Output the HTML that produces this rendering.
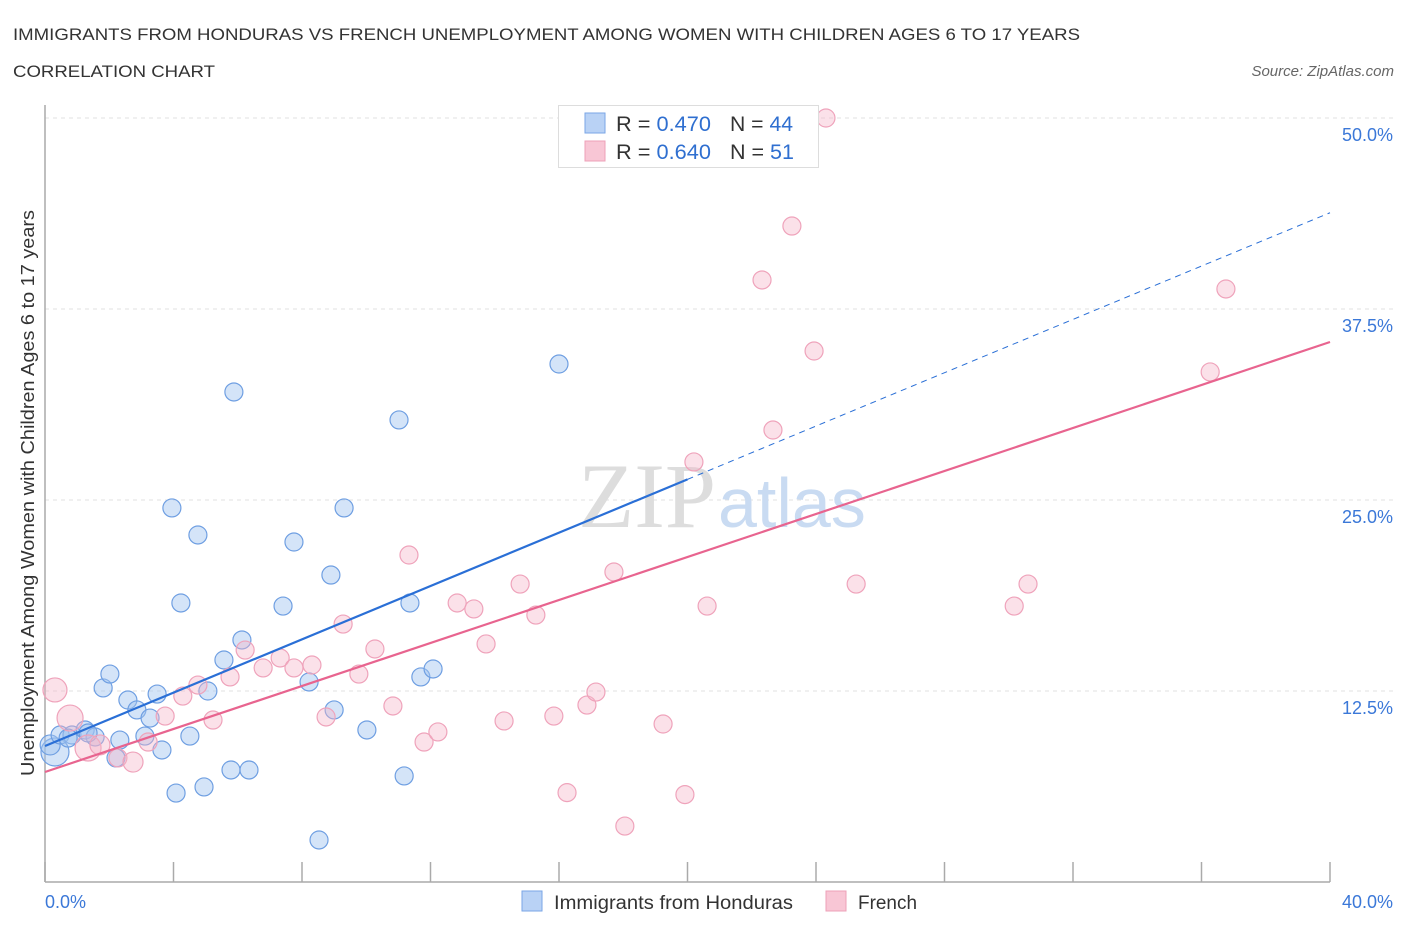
<!DOCTYPE html>
<html><head><meta charset="utf-8"><style>
body{margin:0;background:#fff;}
svg{display:block;font-family:"Liberation Sans",sans-serif;}
</style></head><body>
<svg id="chart" width="1406" height="930" viewBox="0 0 1406 930" xmlns="http://www.w3.org/2000/svg">
<text x="13" y="40" font-size="17" fill="#333" textLength="1067" lengthAdjust="spacingAndGlyphs">IMMIGRANTS FROM HONDURAS VS FRENCH UNEMPLOYMENT AMONG WOMEN WITH CHILDREN AGES 6 TO 17 YEARS</text>
<text x="13" y="77" font-size="17" fill="#333" textLength="202" lengthAdjust="spacingAndGlyphs">CORRELATION CHART</text>
<text x="1394" y="76" font-size="15" fill="#666" font-style="italic" text-anchor="end">Source: ZipAtlas.com</text>
<g id="grid"></g>
<text x="716" y="527" font-size="92" font-family="Liberation Serif,serif" fill="#ddd" text-anchor="end">ZIP</text>
<text x="718" y="527" font-size="70" fill="#c9dbf2">atlas</text>
<g id="axes"></g>
<g id="marks"></g>
<text transform="translate(34,493) rotate(-90)" font-size="18" fill="#333" text-anchor="middle" textLength="566" lengthAdjust="spacingAndGlyphs">Unemployment Among Women with Children Ages 6 to 17 years</text>
<g>
<rect x="558.5" y="105.5" width="260" height="62" fill="#fff" stroke="#ddd"/>
<rect x="585" y="113" width="20" height="20" fill="#b9d2f5" stroke="#7aa6e6"/>
<rect x="585" y="141" width="20" height="20" fill="#f8c6d5" stroke="#eea0b8"/>
<text x="616" y="131" font-size="21" fill="#333" textLength="95" lengthAdjust="spacingAndGlyphs">R = <tspan fill="#2f6fd0">0.470</tspan></text>
<text x="730" y="131" font-size="21" fill="#333" textLength="63" lengthAdjust="spacingAndGlyphs">N = <tspan fill="#2f6fd0">44</tspan></text>
<text x="616" y="159" font-size="21" fill="#333" textLength="95" lengthAdjust="spacingAndGlyphs">R = <tspan fill="#2f6fd0">0.640</tspan></text>
<text x="730" y="159" font-size="21" fill="#333" textLength="64" lengthAdjust="spacingAndGlyphs">N = <tspan fill="#2f6fd0"> 51</tspan></text>
</g>
<g>
<rect x="522" y="891" width="20" height="20" fill="#b9d2f5" stroke="#7aa6e6"/>
<text x="554" y="909" font-size="19" fill="#333" textLength="239" lengthAdjust="spacingAndGlyphs">Immigrants from Honduras</text>
<rect x="826" y="891" width="20" height="20" fill="#f8c6d5" stroke="#eea0b8"/>
<text x="858" y="909" font-size="19" fill="#333" textLength="59" lengthAdjust="spacingAndGlyphs">French</text>
</g>
</svg>
<script>
const xTicks=[0,4,8,12,16,20,24,28,32,36,40];
const yTicks=[12.5,25,37.5,50];
const yTickLabels=["12.5%","25.0%","37.5%","50.0%"];
const xEndLabels=["0.0%","40.0%"];
const blueX=[0.31,0.16,0.47,0.84,1.25,1.56,0.72,2.33,1.81,2.02,2.58,2.86,3.27,3.49,3.11,3.64,3.95,4.23,4.08,4.51,4.76,4.95,5.07,5.57,5.79,5.88,6.13,6.35,7.41,7.75,8.22,8.53,8.90,9.00,9.31,10.02,11.02,11.18,11.36,11.70,12.08,16.0,2.21,1.34];
const blueY=[8.51,8.97,9.62,9.62,9.95,9.49,9.42,9.29,12.70,13.61,11.91,11.26,10.73,12.30,9.55,8.64,24.48,18.26,5.82,9.55,22.71,6.22,12.50,14.53,7.33,32.07,15.84,7.33,18.06,22.25,13.09,2.75,20.09,11.26,24.48,9.95,30.24,6.94,18.26,13.42,13.94,33.90,8.12,9.75];
const blueR=[14,10,9,9,9,9,9,9,9,9,9,9,9,9,9,9,9,9,9,9,9,9,9,9,9,9,9,9,9,9,9,9,9,9,9,9,9,9,9,9,9,9,9,9];
const pinkX=[0.31,0.78,1.34,1.71,2.27,2.74,3.21,3.74,4.29,4.76,5.23,5.76,6.23,6.79,7.32,7.75,8.31,8.75,9.28,9.77,10.27,10.83,11.33,11.80,12.23,12.83,13.35,13.73,14.29,14.79,15.28,15.84,16.25,16.87,17.15,17.71,18.05,19.24,19.92,20.20,20.61,22.32,22.66,23.25,23.94,24.31,25.25,30.17,30.60,36.27,36.76];
const pinkY=[12.57,10.73,8.77,8.97,8.12,7.85,9.16,10.86,12.17,12.89,10.60,13.42,15.18,14.01,14.66,14.01,14.20,10.80,16.88,13.61,15.25,11.52,21.40,9.16,9.82,18.26,17.87,15.58,10.54,19.50,17.47,10.86,5.85,11.58,12.43,20.29,3.66,10.34,5.72,27.49,18.06,39.40,29.58,42.93,34.75,50.0,19.50,18.06,19.50,33.38,38.81];
const pinkR=[12,13,13,10,9,10,9,9,9,9,9,9,9,9,9,9,9,9,9,9,9,9,9,9,9,9,9,9,9,9,9,9,9,9,9,9,9,9,9,9,9,9,9,9,9,9,9,9,9,9,9];
const blueTrend=[8.9,43.8];
const pinkTrend=[7.2,35.34];
const NS='http://www.w3.org/2000/svg';
const x0=45,x1=1330,yb=882,yt=118;
function sx(v){return x0+(v/40)*(x1-x0);}
function sy(v){return yb-(v/50)*(yb-yt);}
function mk(tag,attrs,parent){const e=document.createElementNS(NS,tag);for(const k in attrs)e.setAttribute(k,attrs[k]);parent.appendChild(e);return e;}
const grid=document.getElementById('grid'),axes=document.getElementById('axes'),marks=document.getElementById('marks');
yTicks.forEach((t,i)=>{
 const l=mk('line',{x1:x0,x2:1394,y1:sy(t),y2:sy(t),stroke:'#e2e2e2','stroke-dasharray':'4,4'},grid);
 
 
 const tx=mk('text',{x:1393,y:sy(t)+23,'font-size':18,fill:'#3b78d8','text-anchor':'end'},axes);
 tx.textContent=yTickLabels[i];
 
 
});
const ax=mk('line',{x1:x0,x2:x0,y1:105,y2:yb,stroke:'#aaa','stroke-width':1.5},axes);


const bx=mk('line',{x1:x0,x2:x1,y1:yb,y2:yb,stroke:'#aaa','stroke-width':1.5},axes);


xTicks.forEach(t=>{
 const l=mk('line',{x1:sx(t),x2:sx(t),y1:yb-20,y2:yb,stroke:'#aaa','stroke-width':1.5},axes);
 
 
});
[[0,'start',45],[40,'end',1393]].forEach((d,i)=>{
 const tx=mk('text',{x:d[2],y:908,'font-size':18,fill:'#3b78d8','text-anchor':d[1]},axes);
 tx.textContent=xEndLabels[i];
 
 
});
blueX.forEach((v,i)=>{
 const c=mk('circle',{cx:sx(v),cy:sy(blueY[i]),r:blueR[i],fill:'rgba(160,195,240,0.45)',stroke:'#6f9fe2','stroke-width':1.2},marks);
 
 
});
pinkX.forEach((v,i)=>{
 const c=mk('circle',{cx:sx(v),cy:sy(pinkY[i]),r:pinkR[i],fill:'rgba(246,180,200,0.4)',stroke:'#efa3bb','stroke-width':1.2},marks);
 
 
});
const bs=(blueTrend[1]-blueTrend[0])/40;
const bl=mk('line',{x1:sx(0),y1:sy(blueTrend[0]),x2:sx(20),y2:sy(blueTrend[0]+bs*20),stroke:'#2a6fd6','stroke-width':2.2},marks);


const bd=mk('line',{x1:sx(20),y1:sy(blueTrend[0]+bs*20),x2:sx(40),y2:sy(blueTrend[1]),stroke:'#2a6fd6','stroke-width':1,'stroke-dasharray':'6,5'},marks);


const pl=mk('line',{x1:sx(0),y1:sy(pinkTrend[0]),x2:sx(40),y2:sy(pinkTrend[1]),stroke:'#e8648f','stroke-width':2.2},marks);


</script>
</body></html>
